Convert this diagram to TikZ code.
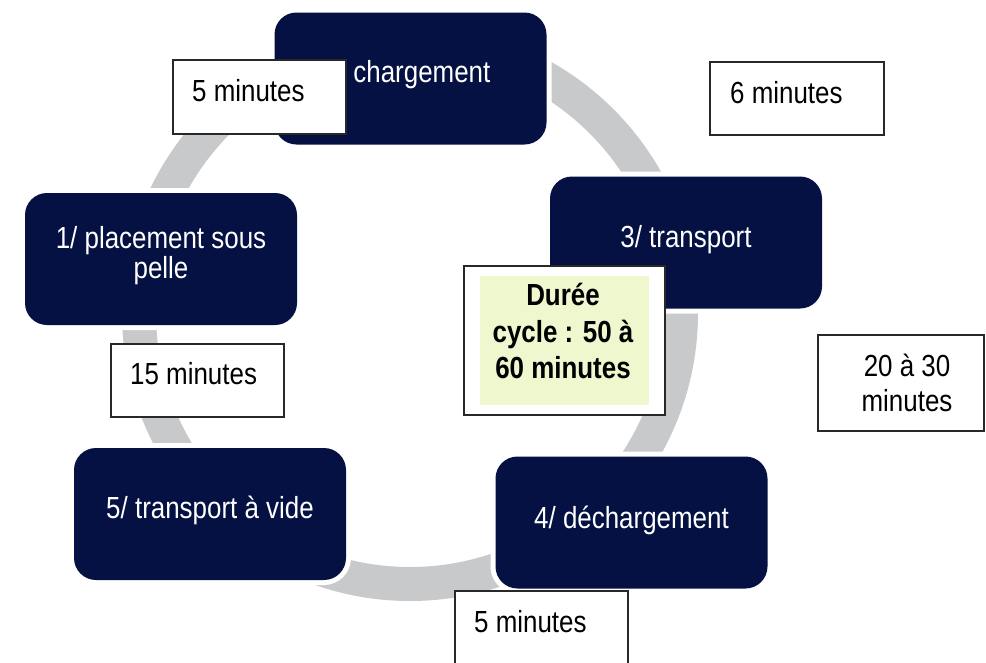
\documentclass[tikz,border=0pt]{standalone}
\usepackage{fontspec}
\setmainfont{Liberation Sans}[FakeStretch=0.85]
\definecolor{navy}{RGB}{5,17,66}
\definecolor{ringgray}{RGB}{200,201,203}
\definecolor{softgreen}{RGB}{238,247,206}
\definecolor{boxline}{RGB}{40,40,40}
\begin{document}
\begin{tikzpicture}[x=1pt,y=-1pt,
  stagebox/.style={rectangle, fill=navy, rounded corners=22pt, inner sep=0pt,
    minimum width=272pt, minimum height=132pt,
    preaction={draw=white, line width=10pt}},
  stagetext/.style={text=white, inner sep=0pt, font=\fontsize{30.5}{27}\selectfont, align=center},
  timebox/.style={rectangle, draw=boxline, fill=white, line width=1.3pt, inner sep=0pt},
  timetext/.style={text=black, inner sep=0pt, font=\fontsize{30.5}{35}\selectfont},
]
\useasboundingbox (0,0) rectangle (986,662);
\fill[white] (0,0) rectangle (986,662);

% ring
\draw[ringgray, line width=34pt] (410,313) circle (271pt);

% stages
\node[stagebox] (s2) at (410.5,78.5) {};
\node[stagebox] (s3) at (686,242.5) {};
\node[stagebox] (s4) at (631.5,522.5) {};
\node[stagebox] (s5) at (210,514) {};
\node[stagebox] (s1) at (161,259) {};

\node[stagetext, anchor=base] (t2) at (407.5,82) {2/ chargement};
\node[stagetext, anchor=base] (t3) at (686,247) {3/ transport};
\node[stagetext, anchor=base] (t4) at (631.5,528) {4/ déchargement};
\node[stagetext, anchor=base] (t5) at (210,518) {5/ transport à vide};
\node[stagetext] (t1) at (161,255.5) {1/ placement sous\\pelle};

% time boxes
\node[timebox, minimum width=173pt, minimum height=74pt] (b5a) at (259.5,97) {};
\node[timetext, anchor=base west] (l5a) at (192,101) {5 minutes};

\node[timebox, minimum width=174pt, minimum height=73pt] (b6) at (797,98.5) {};
\node[timetext, anchor=base west] (l6) at (730,103) {6 minutes};

\node[timebox, minimum width=166pt, minimum height=96pt] (b20) at (901,383) {};
\node[timetext, align=center] (l20) at (907,382.5) {20 à 30\\minutes};

\node[timebox, minimum width=173pt, minimum height=73pt] (b15) at (197.5,380.5) {};
\node[timetext, anchor=base west] (l15) at (130,384) {15 minutes};

\node[timebox, minimum width=173pt, minimum height=79pt] (b5b) at (541.5,630.5) {};
\node[timetext, anchor=base west] (l5b) at (474,632) {5 minutes};

% cycle duration
\node[timebox, minimum width=201pt, minimum height=149pt] (cyc) at (564.5,340.5) {};
\node[rectangle, fill=softgreen, inner sep=0pt, minimum width=169pt, minimum height=129pt] (cycin) at (564.5,340.5) {};
\node[timetext, align=center, font=\fontsize{30.5}{36.5}\selectfont\bfseries] (lcyc) at (563,331) {Durée\\cycle : 50 à\\60 minutes};
\end{tikzpicture}
\end{document}
